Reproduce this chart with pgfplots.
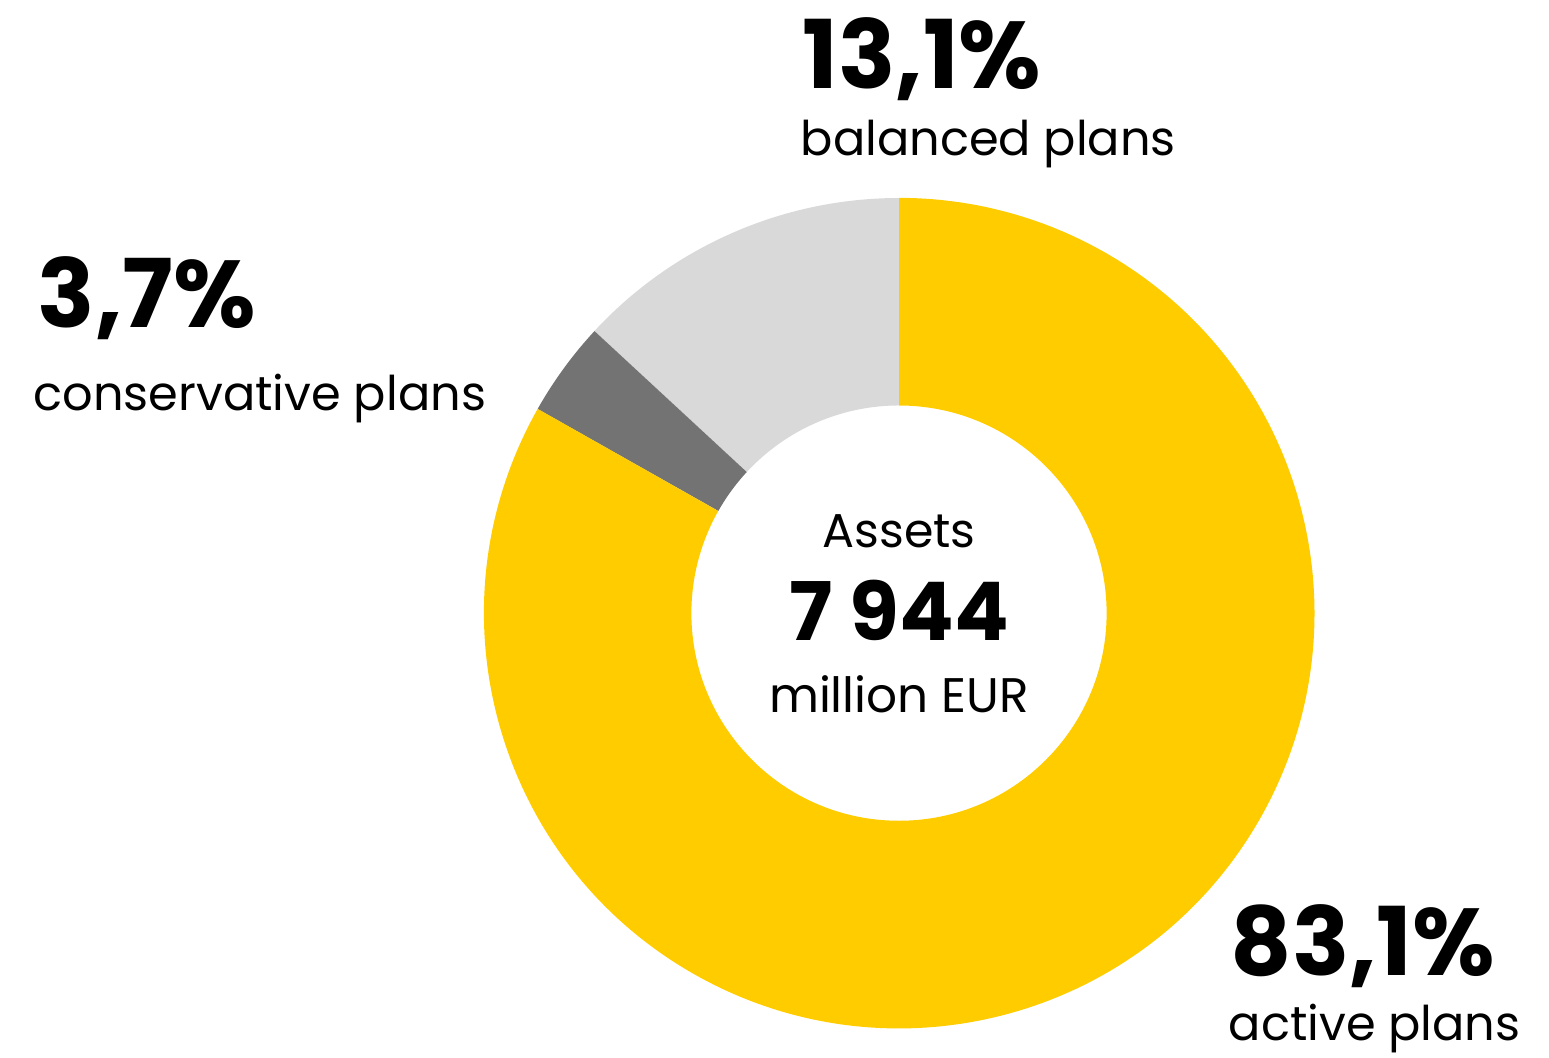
\documentclass[border=0pt]{standalone}
\usepackage{pgfplots}
\pgfplotsset{compat=1.18}
\usepackage{fontspec}
\setmainfont{Poppins}[BoldFont={Poppins Bold}]

\definecolor{activeC}{HTML}{FFCC00}
\definecolor{balancedC}{HTML}{D9D9D9}
\definecolor{conservC}{HTML}{737373}

% shares in percent, counter-clockwise from the top
\def\pBal{13.1}
\def\pCon{3.7}
\def\pAct{83.1}

\begin{document}
\begin{tikzpicture}
\pgfmathsetmacro\sumP{\pBal+\pCon+\pAct}
\pgfmathsetmacro\aA{90}
\pgfmathsetmacro\aB{\aA+(\pBal/\sumP)*360}
\pgfmathsetmacro\aC{\aB+(\pCon/\sumP)*360}
\pgfmathsetmacro\aD{\aC+(\pAct/\sumP)*360}
\begin{axis}[
    x=0.01cm, y=0.01cm,
    xmin=0, xmax=1549, ymin=0, ymax=1057,
    hide axis, clip=false,
]
% donut: centre (899,444), radii 415 / 207.5 (axis units = 0.01cm)
\fill[balancedC] ({899+415*cos(\aA)},{444+415*sin(\aA)}) arc[start angle=\aA, end angle=\aB, radius=4.15cm]
    -- ({899+207.5*cos(\aB)},{444+207.5*sin(\aB)}) arc[start angle=\aB, end angle=\aA, radius=2.075cm] -- cycle;
\fill[conservC] ({899+415*cos(\aB)},{444+415*sin(\aB)}) arc[start angle=\aB, end angle=\aC, radius=4.15cm]
    -- ({899+207.5*cos(\aC)},{444+207.5*sin(\aC)}) arc[start angle=\aC, end angle=\aB, radius=2.075cm] -- cycle;
\fill[activeC] ({899+415*cos(\aC)},{444+415*sin(\aC)}) arc[start angle=\aC, end angle=\aD, radius=4.15cm]
    -- ({899+207.5*cos(\aD)},{444+207.5*sin(\aD)}) arc[start angle=\aD, end angle=\aC, radius=2.075cm] -- cycle;

% labels
\node[anchor=base west, inner sep=0pt, font=\fontsize{27}{30}\selectfont\bfseries] at (802,969) {13,1\%};
\node[anchor=base west, inner sep=0pt, font=\fontsize{13.6}{16}\selectfont] at (800,902) {balanced plans};
\node[anchor=base west, inner sep=0pt, font=\fontsize{27}{30}\selectfont\bfseries] at (37,730) {3,7\%};
\node[anchor=base west, inner sep=0pt, font=\fontsize{13.6}{16}\selectfont] at (33,647) {conservative plans};
\node[anchor=base west, inner sep=0pt, font=\fontsize{27}{30}\selectfont\bfseries] at (1230,82) {83,1\%};
\node[anchor=base west, inner sep=0pt, font=\fontsize{13.6}{16}\selectfont] at (1228,17) {active plans};

\node[anchor=base, inner sep=0pt, font=\fontsize{13.5}{16}\selectfont] at (899,510) {Assets};
\node[anchor=base, inner sep=0pt, font=\fontsize{23}{27}\selectfont\bfseries] at (899,417) {7 944};
\node[anchor=base, inner sep=0pt, font=\fontsize{13.8}{16}\selectfont] at (899,345) {million EUR};
\end{axis}
\pgfresetboundingbox
\path (current axis.south west) rectangle (current axis.north east);
\end{tikzpicture}
\end{document}
